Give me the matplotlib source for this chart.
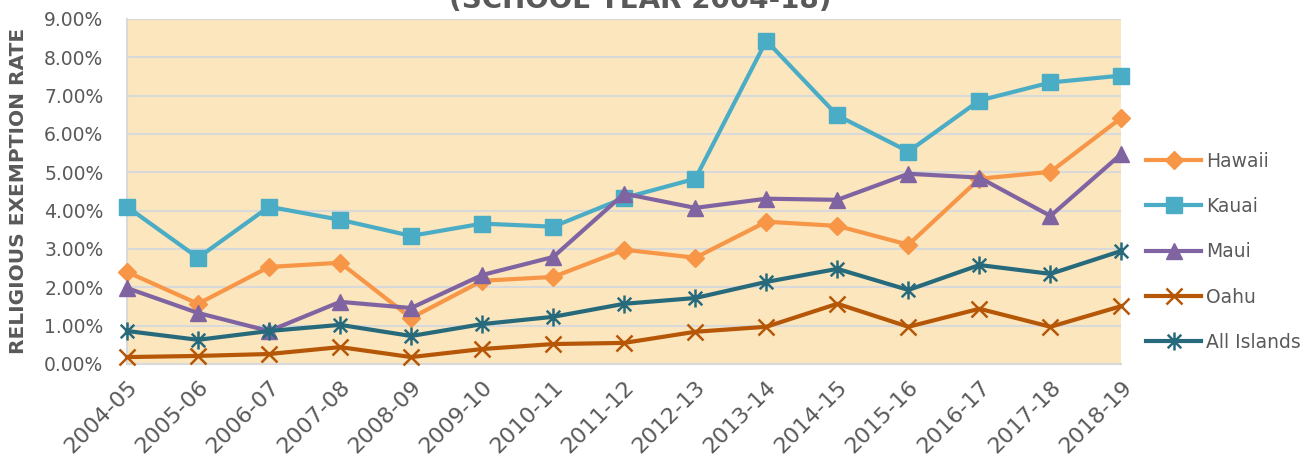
import matplotlib
matplotlib.use("Agg")
import matplotlib.pyplot as plt
from matplotlib.path import Path
from matplotlib.ticker import FuncFormatter, MultipleLocator

years = ["2004-05", "2005-06", "2006-07", "2007-08", "2008-09", "2009-10", "2010-11",
         "2011-12", "2012-13", "2013-14", "2014-15", "2015-16", "2016-17", "2017-18", "2018-19"]
hawaii = [2.40, 1.57, 2.53, 2.64, 1.20, 2.17, 2.27, 2.98, 2.77, 3.71, 3.60, 3.11, 4.83, 5.01, 6.42]
kauai = [4.10, 2.77, 4.10, 3.76, 3.34, 3.66, 3.58, 4.33, 4.83, 8.43, 6.48, 5.54, 6.87, 7.34, 7.52]
maui = [1.98, 1.33, 0.86, 1.62, 1.46, 2.32, 2.79, 4.44, 4.07, 4.31, 4.28, 4.96, 4.86, 3.86, 5.48]
oahu = [0.18, 0.21, 0.26, 0.44, 0.18, 0.39, 0.52, 0.55, 0.84, 0.97, 1.57, 0.97, 1.44, 0.97, 1.51]
all_islands = [0.86, 0.63, 0.86, 1.02, 0.73, 1.04, 1.23, 1.57, 1.72, 2.14, 2.48, 1.93, 2.58, 2.35, 2.95]

asterisk = Path([(0, -1), (0, 1), (-0.75, -0.75), (0.75, 0.75), (-0.75, 0.75), (0.75, -0.75)],
                [Path.MOVETO, Path.LINETO, Path.MOVETO, Path.LINETO, Path.MOVETO, Path.LINETO])

fig = plt.figure(figsize=(13.12, 4.59), dpi=100)
ax = fig.add_axes([0.0968, 0.207, 0.758, 0.752])
ax.set_facecolor("#FBE6BE")

x = list(range(len(years)))
series = [
    ("Hawaii", hawaii, "#F79646", dict(marker="D", markersize=9)),
    ("Kauai", kauai, "#4BACC6", dict(marker="s", markersize=12)),
    ("Maui", maui, "#8064A2", dict(marker="^", markersize=12)),
    ("Oahu", oahu, "#B65708", dict(marker="x", markersize=12, markeredgewidth=1.8)),
    ("All Islands", all_islands, "#276A7C", dict(marker=asterisk, markersize=13, markeredgewidth=1.8)),
]
for name, vals, col, mk in series:
    ax.plot(x, vals, color=col, linewidth=3, label=name, markerfacecolor=col,
            markeredgecolor=col, clip_on=False, zorder=3, **mk)

ax.set_xlim(0, len(years) - 1)
ax.set_ylim(0, 9)
ax.yaxis.set_major_locator(MultipleLocator(1))
ax.yaxis.set_major_formatter(FuncFormatter(lambda v, p: f"{v:.2f}%"))
ax.grid(axis="y", color="#D9D9D9", linewidth=1.5, zorder=1)
ax.set_axisbelow(True)
ax.set_xticks(x)
ax.set_xticklabels(years, rotation=45, ha="right", rotation_mode="anchor")
ax.tick_params(axis="both", length=0, labelcolor="#595959")
ax.tick_params(axis="x", pad=9, labelsize=16)
ax.tick_params(axis="y", pad=17, labelsize=13.5)
for s in ["top", "right"]:
    ax.spines[s].set_visible(False)
for s in ["left", "bottom"]:
    ax.spines[s].set_color("#D9D9D9")
    ax.spines[s].set_linewidth(1.5)

ax.set_ylabel("RELIGIOUS EXEMPTION RATE", fontsize=14.5, fontweight="bold", color="#595959")
ax.yaxis.set_label_coords(-0.0996, 0.5)

fig.text(0.488, 1 - 8 / 459, "(SCHOOL YEAR 2004-18)", ha="center", va="baseline",
         fontsize=20, fontweight="bold", color="#595959")

leg = ax.legend(loc="center left", bbox_to_anchor=(1.008, 0.325), frameon=False, fontsize=13.5,
                labelspacing=1.4, handlelength=2.9, handletextpad=0.3)
for t in leg.get_texts():
    t.set_color("#595959")

fig.savefig("out.png", dpi=100)
